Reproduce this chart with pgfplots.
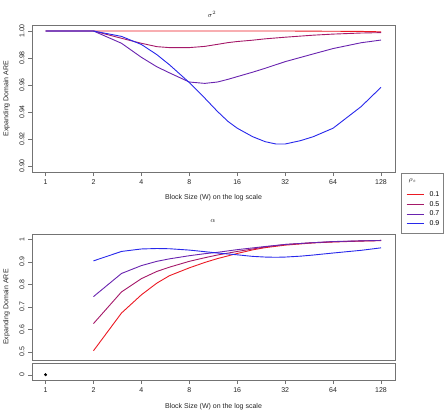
\documentclass[border=0pt]{standalone}
\usepackage{pgfplots}
\pgfplotsset{compat=1.18}
\usepackage{fontspec}
\setmainfont{Liberation Sans}

% colour ramp from red to blue, one shade per rho_s
\definecolor{r01}{RGB}{235,25,35}
\definecolor{r05}{RGB}{165,25,105}
\definecolor{r07}{RGB}{105,35,175}
\definecolor{r09}{RGB}{40,40,235}
\tikzset{curve/.style={line width=0.9pt}}

\begin{document}
\begin{tikzpicture}
\useasboundingbox (0pt,0pt) rectangle (447pt,410pt);

% ---- sigma^2 panel ----
\begin{axis}[scale only axis, width=363pt, height=147pt,
  at={(32pt,238pt)}, anchor=south west,
  xmode=log, log basis x=2, xmin=0.822, xmax=156.7,
  ymin=0.89556, ymax=1.00444,
  axis line style={black!55}, tick style={black!55},
  major tick length=4pt, tick align=outside,
  xtick pos=bottom, ytick pos=left,
  ticklabel style={font=\fontsize{7}{8}\selectfont, text=black!85},
  yticklabel style={rotate=90, anchor=south},
  xtick={1,2,4,8,16,32,64,128}, xticklabels={1,2,4,8,16,32,64,128},
  ytick={0.90,0.92,0.94,0.96,0.98,1.00},
  yticklabels={0.90,0.92,0.94,0.96,0.98,1.00},
  legend style={at={(1.0303,-0.1327)}, anchor=north west, draw=none, fill=none,
    font=\fontsize{7}{8}\selectfont, inner xsep=0pt, inner ysep=0pt,
    row sep=3.2pt, column sep=5.3pt, nodes={inner sep=0pt}, cells={anchor=west}},
  legend image code/.code={\draw[#1, line width=1pt] (0pt,0pt) -- (17pt,0pt);},
]
\addplot[r01, curve] coordinates {(1,1) (2,1) (4,1) (8,1) (16,1) (32,1) (64,0.9998) (96,0.9997) (128,0.9994)};
\addlegendentry{0.1}
\addplot[r05, curve] coordinates {(1,1) (2,1) (3,0.9946) (4,0.9909) (5,0.9884) (6,0.9877) (8,0.9877)
  (10,0.9886) (12,0.9901) (14,0.9914) (16,0.9922) (20,0.9932) (24,0.9942) (32,0.9954)
  (48,0.9969) (64,0.9977) (96,0.9985) (128,0.9988)};
\addlegendentry{0.5}
\addplot[r07, curve] coordinates {(1,1) (2,1) (3,0.9909) (4,0.9805) (5,0.9735) (6,0.9690) (8,0.9622)
  (10,0.9612) (12,0.9622) (14,0.9642) (16,0.9662) (20,0.9695) (24,0.9724) (32,0.9773)
  (48,0.9830) (64,0.9870) (96,0.9913) (128,0.9933)};
\addlegendentry{0.7}
\addplot[r09, curve] coordinates {(1,1) (2,1) (3,0.9960) (4,0.9900) (5,0.9825) (6,0.9750) (8,0.9618)
  (10,0.9503) (12,0.9405) (14,0.9330) (16,0.9280) (20,0.9217) (24,0.9180) (28,0.9163) (32,0.9163)
  (40,0.9188) (48,0.9217) (64,0.9280) (96,0.9440) (128,0.9583)};
\addlegendentry{0.9}
\end{axis}

% ---- alpha panel ----
\begin{axis}[scale only axis, width=363pt, height=126pt,
  at={(32pt,50pt)}, anchor=south west,
  xmode=log, log basis x=2, xmin=0.822, xmax=156.7,
  ymin=0.463, ymax=1.0236,
  axis line style={black!55}, tick style={black!55},
  major tick length=4pt, tick align=outside,
  xtick=\empty, ytick pos=left,
  ticklabel style={font=\fontsize{7}{8}\selectfont, text=black!85},
  yticklabel style={rotate=90, anchor=south},
  ytick={0.5,0.6,0.7,0.8,0.9,1}, yticklabels={0.5,0.6,0.7,0.8,0.9,1},
]
\addplot[r01, curve] coordinates {(2,0.504) (3,0.672) (4,0.753) (5,0.805) (6,0.838) (8,0.873)
  (10,0.897) (12,0.914) (16,0.937) (20,0.953) (24,0.963) (32,0.974) (48,0.984) (64,0.988) (96,0.992) (128,0.994)};
\addplot[r05, curve] coordinates {(2,0.625) (3,0.766) (4,0.825) (5,0.857) (6,0.876) (8,0.902)
  (10,0.918) (12,0.930) (16,0.946) (20,0.957) (24,0.966) (32,0.977) (48,0.985) (64,0.989) (96,0.993) (128,0.995)};
\addplot[r07, curve] coordinates {(2,0.745) (3,0.848) (4,0.883) (5,0.902) (6,0.913) (8,0.927)
  (10,0.936) (12,0.942) (16,0.954) (24,0.968) (32,0.977) (48,0.985) (64,0.990) (96,0.993) (128,0.995)};
\addplot[r09, curve] coordinates {(2,0.904) (3,0.946) (4,0.957) (5,0.959) (6,0.958) (8,0.952)
  (10,0.945) (12,0.939) (16,0.931) (20,0.924) (24,0.921) (28,0.920) (32,0.921) (40,0.925)
  (48,0.930) (64,0.939) (96,0.951) (128,0.962)};
\end{axis}

% ---- W = 1 strip ----
\begin{axis}[scale only axis, width=363pt, height=17pt,
  at={(32pt,30pt)}, anchor=south west,
  xmode=log, log basis x=2, xmin=0.822, xmax=156.7,
  ymin=-0.5, ymax=1.1037,
  axis line style={black!55}, tick style={black!55},
  major tick length=4pt, tick align=outside,
  xtick pos=bottom, ytick pos=left,
  ticklabel style={font=\fontsize{7}{8}\selectfont, text=black!85},
  yticklabel style={rotate=90, anchor=south},
  xtick={1,2,4,8,16,32,64,128}, xticklabels={1,2,4,8,16,32,64,128},
  ytick={0}, yticklabels={0},
]
\addplot[only marks, mark=*, mark size=1.3pt, black] coordinates {(1,0)};
\end{axis}

% legend frame, legend title, titles and axis labels
\draw[black!50] (401pt,177pt) rectangle (443pt,237pt);
\begin{scope}[every node/.style={font=\fontsize{7}{8}\selectfont, text=black!85}]
\node at (412.5pt,229.3pt) {$\rho_s$};
\node at (212pt,396pt) {$\sigma^2$};
\node at (213pt,189pt) {$\alpha$};
\node at (213.5pt,212pt) {Block Size (W) on the log scale};
\node at (213.5pt,3.5pt) {Block Size (W) on the log scale};
\node[rotate=90] at (6.5pt,311.5pt) {Expanding Domain ARE};
\node[rotate=90] at (6.5pt,103pt) {Expanding Domain ARE};
\end{scope}
\end{tikzpicture}
\end{document}
